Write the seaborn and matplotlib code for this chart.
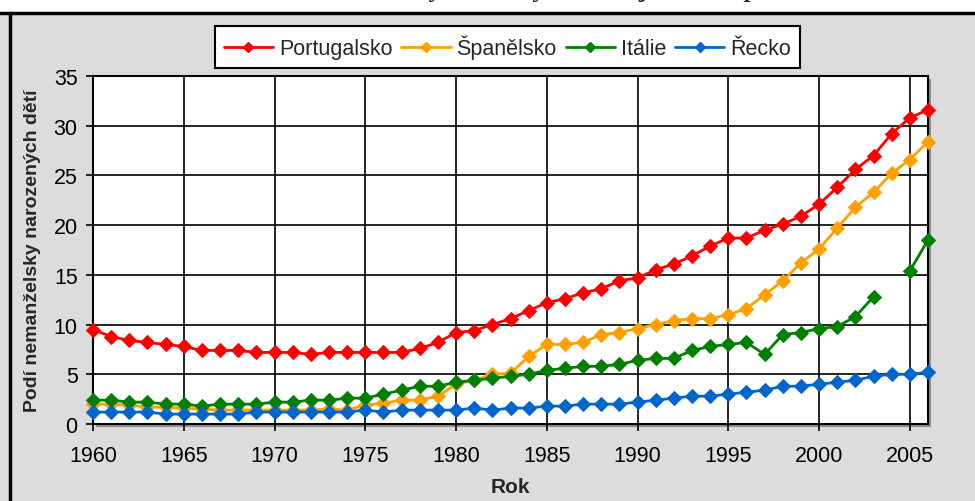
import numpy as np
import pandas as pd
import matplotlib
matplotlib.use("Agg")
import matplotlib.pyplot as plt
from matplotlib.lines import Line2D
import seaborn as sns

years = list(range(1960, 2007))

portugalsko = [9.5, 8.8, 8.4, 8.2, 8.0, 7.8, 7.4, 7.4, 7.4, 7.2,
               7.2, 7.2, 7.0, 7.2, 7.2, 7.2, 7.2, 7.2, 7.6, 8.2,
               9.2, 9.4, 10.0, 10.6, 11.4, 12.2, 12.6, 13.2, 13.6, 14.4,
               14.7, 15.5, 16.1, 16.9, 17.9, 18.7, 18.7, 19.5, 20.1, 20.9,
               22.1, 23.8, 25.6, 27.0, 29.2, 30.8, 31.6]

spanelsko = [2.0, 2.0, 1.9, 1.7, 1.7, 1.6, 1.5, 1.4, 1.4, 1.4,
             1.4, 1.4, 1.4, 1.5, 1.4, 1.9, 2.1, 2.4, 2.4, 2.8,
             4.0, 4.4, 5.0, 5.1, 6.8, 8.0, 8.0, 8.2, 9.0, 9.2,
             9.6, 10.0, 10.4, 10.6, 10.6, 11.0, 11.6, 13.0, 14.4, 16.2,
             17.6, 19.7, 21.8, 23.3, 25.2, 26.6, 28.4]

italie = [2.4, 2.4, 2.2, 2.2, 2.0, 2.0, 1.8, 2.0, 2.0, 2.0,
          2.2, 2.2, 2.4, 2.4, 2.6, 2.6, 3.0, 3.4, 3.8, 3.8,
          4.2, 4.4, 4.6, 4.8, 5.0, 5.4, 5.6, 5.8, 5.8, 6.0,
          6.4, 6.6, 6.6, 7.4, 7.8, 8.0, 8.2, 7.0, 9.0, 9.2,
          9.6, 9.8, 10.8, 12.8, np.nan, 15.4, 18.5]

recko = [1.2, 1.2, 1.2, 1.2, 1.0, 1.0, 1.0, 1.0, 1.0, 1.2,
         1.2, 1.2, 1.2, 1.2, 1.2, 1.4, 1.2, 1.4, 1.4, 1.4,
         1.4, 1.6, 1.4, 1.6, 1.6, 1.8, 1.8, 2.0, 2.0, 2.0,
         2.2, 2.4, 2.6, 2.8, 2.8, 3.0, 3.2, 3.4, 3.8, 3.8,
         4.0, 4.2, 4.4, 4.8, 5.0, 5.0, 5.2]

series_names = ["Portugalsko", "Španělsko", "Itálie", "Řecko"]
series_values = [portugalsko, spanelsko, italie, recko]
colors = ["#ff0000", "#ffa000", "#008000", "#0066cc"]

x_ticks = list(range(1960, 2006, 5))
y_ticks = list(range(0, 36, 5))

title_text = "Podíl nemanželsky narozených dětí v jižní Evropě"
ylabel_text = "Podí nemanželsky narozených dětí"
xlabel_text = "Rok"

sns.set_theme(style="white")
plt.rcParams["font.family"] = ["Liberation Sans", "DejaVu Sans"]

bg = "#dcdcdc"
W, H = 975, 502
fig = plt.figure(figsize=(W / 100, H / 100), dpi=100, facecolor=bg)

# white strip at top with (clipped) title, and frame lines
fig.patches.append(plt.Rectangle((0, 1 - 13.5 / H), 1, 0.05, transform=fig.transFigure,
                                 facecolor="white", edgecolor="none", zorder=-2))
fig.lines.append(Line2D([0, 1], [1 - 13.5 / H, 1 - 13.5 / H], transform=fig.transFigure,
                        color="black", lw=2.5))
fig.lines.append(Line2D([9.5 / W, 9.5 / W], [0, 1 - 13.5 / H], transform=fig.transFigure,
                        color="black", lw=2.5))
fig.text(507 / W, 1 + 3 / H, title_text, ha="center", va="baseline",
         fontsize=18.5, fontweight="bold", fontstyle="italic",
         family=["Liberation Serif", "DejaVu Serif"])

# axes placement (pixels)
L, R, T, B = 93, 928, 77, 425
# drop shadow of the plot area
fig.patches.append(plt.Rectangle(((L + 3) / W, 1 - (B + 3) / H), (R - L) / W, (B - T) / H,
                                 transform=fig.transFigure, facecolor="#8c8c8c",
                                 edgecolor="none", zorder=-1))

ax = fig.add_axes([L / W, 1 - B / H, (R - L) / W, (B - T) / H])
ax.set_facecolor("white")

handles = []
for name, vals, col in zip(series_names, series_values, colors):
    df = pd.DataFrame({"Rok": years, "v": vals})
    valid = df["v"].notna()
    seg_id = (~valid).cumsum()
    for _, seg in df[valid].groupby(seg_id[valid]):
        sns.lineplot(data=seg, x="Rok", y="v", ax=ax, color=col, lw=2,
                     marker="D", markersize=7, markeredgecolor=col,
                     estimator=None, sort=False, clip_on=False, zorder=3,
                     legend=False)
    handles.append(Line2D([], [], color=col, lw=2, marker="D", markersize=5,
                          markeredgecolor=col, label=name))

ax.set_xlim(1960, 2006)
ax.set_ylim(0, 35)
ax.set_xticks(x_ticks)
ax.set_yticks(y_ticks)
ax.grid(True, color="black", lw=1.2)
ax.set_axisbelow(True)
for s in ax.spines.values():
    s.set_color("black")
    s.set_linewidth(1.5)
ax.tick_params(axis="both", which="major", direction="out", length=5,
               width=1.2, color="black", labelsize=15.5, labelcolor="black",
               left=True, bottom=True)
ax.tick_params(axis="x", pad=10)
ax.tick_params(axis="y", pad=6)
ax.set_xlabel(xlabel_text, fontsize=15, fontweight="bold", labelpad=8)
ax.set_ylabel(ylabel_text, fontsize=14, fontweight="bold", labelpad=9)

leg = fig.legend(handles=handles, loc="center", bbox_to_anchor=(507.5 / W, 1 - 48 / H),
                 ncol=4, fontsize=15.5, frameon=True, fancybox=False,
                 handlelength=2.28, handletextpad=0.28, columnspacing=0.42,
                 borderpad=0.4, borderaxespad=0)
leg.get_frame().set_edgecolor("black")
leg.get_frame().set_linewidth(1.5)
leg.get_frame().set_facecolor("white")
leg.get_frame().set_alpha(1)

fig.savefig("out.png", dpi=100, facecolor=bg)
